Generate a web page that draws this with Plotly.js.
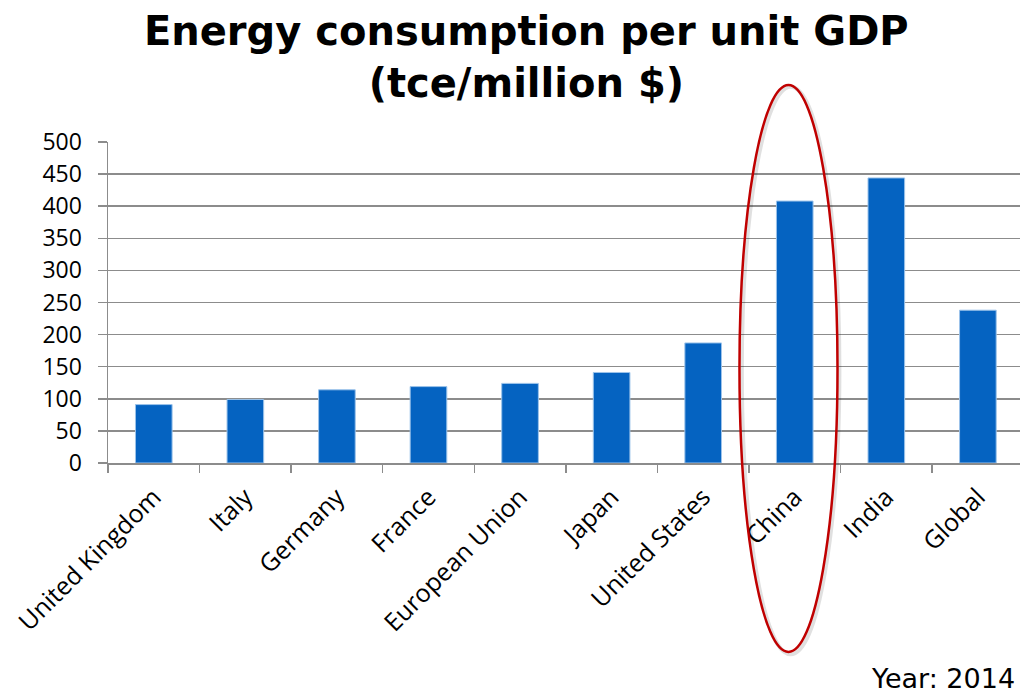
<!DOCTYPE html>
<html>
<head>
<meta charset="utf-8">
<script src="https://cdn.plot.ly/plotly-3.0.1.min.js"></script>
<style>
  html, body { margin: 0; padding: 0; background: #ffffff; }
  #chart { width: 1020px; height: 695px; }
</style>
</head>
<body>
<div id="chart"></div>
<script>
const categories = ["United Kingdom", "Italy", "Germany", "France", "European Union", "Japan", "United States", "China", "India", "Global"];
const values = [91, 99, 114, 119, 124, 141, 187, 408, 444, 238];
const yTickValues = [0, 50, 100, 150, 200, 250, 300, 350, 400, 450, 500];

const gridColor = "#8c8c8c";

const trace = {
  type: "bar",
  x: categories,
  y: values,
  width: 0.4,
  marker: {
    color: "#0563C1",
    line: { color: "#9cc3ea", width: 1 }
  },
  hoverinfo: "x+y"
};

const layout = {
  width: 1020,
  height: 695,
  margin: { l: 108, r: 0, t: 142, b: 232, pad: 0 },
  paper_bgcolor: "#ffffff",
  plot_bgcolor: "#ffffff",
  showlegend: false,
  bargap: 0.6,
  title: {
    text: "Energy consumption per unit GDP<br>(tce/million $)",
    font: { family: "DejaVu Sans", size: 40, color: "#000000", weight: "bold" },
    x: 0.516,
    xanchor: "center",
    xref: "container",
    y: 0.935,
    yanchor: "top",
    yref: "container"
  },
  xaxis: {
    type: "category",
    range: [-0.5, 9.46],
    showline: true,
    linecolor: gridColor,
    linewidth: 1.5,
    ticks: "outside",
    tickson: "boundaries",
    ticklen: 8,
    tickwidth: 1.5,
    tickcolor: gridColor,
    tickangle: -45,
    ticklabelstandoff: 8,
    tickfont: { family: "Open Sans", size: 25, color: "#000000" },
    showgrid: false,
    zeroline: false,
    fixedrange: true
  },
  yaxis: {
    range: [0, 500],
    tickvals: yTickValues,
    ticktext: yTickValues.map(String),
    showline: true,
    linecolor: gridColor,
    linewidth: 1.5,
    ticks: "outside",
    ticklen: 9,
    tickwidth: 1.5,
    tickcolor: gridColor,
    ticklabelstandoff: 11,
    showgrid: true,
    gridcolor: gridColor,
    gridwidth: 1.5,
    zeroline: false,
    tickfont: { family: "Open Sans", size: 23, color: "#000000" },
    fixedrange: true
  },
  shapes: [
    {
      type: "circle",
      xref: "paper", yref: "paper",
      x0: 0.695, x1: 0.802,
      y0: -0.596, y1: 1.172,
      line: { color: "rgba(0,0,0,0.12)", width: 4 },
      fillcolor: "rgba(0,0,0,0)",
      layer: "above"
    },
    {
      type: "circle",
      xref: "paper", yref: "paper",
      x0: 0.6924, x1: 0.7999,
      y0: -0.5888, y1: 1.1776,
      line: { color: "#C00000", width: 2.5 },
      fillcolor: "rgba(0,0,0,0)",
      layer: "above"
    }
  ],
  annotations: [
    {
      text: "Year: 2014",
      xref: "paper", yref: "paper",
      x: 0.997, xanchor: "right",
      y: -0.672, yanchor: "middle",
      showarrow: false,
      font: { family: "DejaVu Sans", size: 27, color: "#000000" }
    }
  ]
};

Plotly.newPlot("chart", [trace], layout, { displayModeBar: false, staticPlot: true });
</script>
</body>
</html>
